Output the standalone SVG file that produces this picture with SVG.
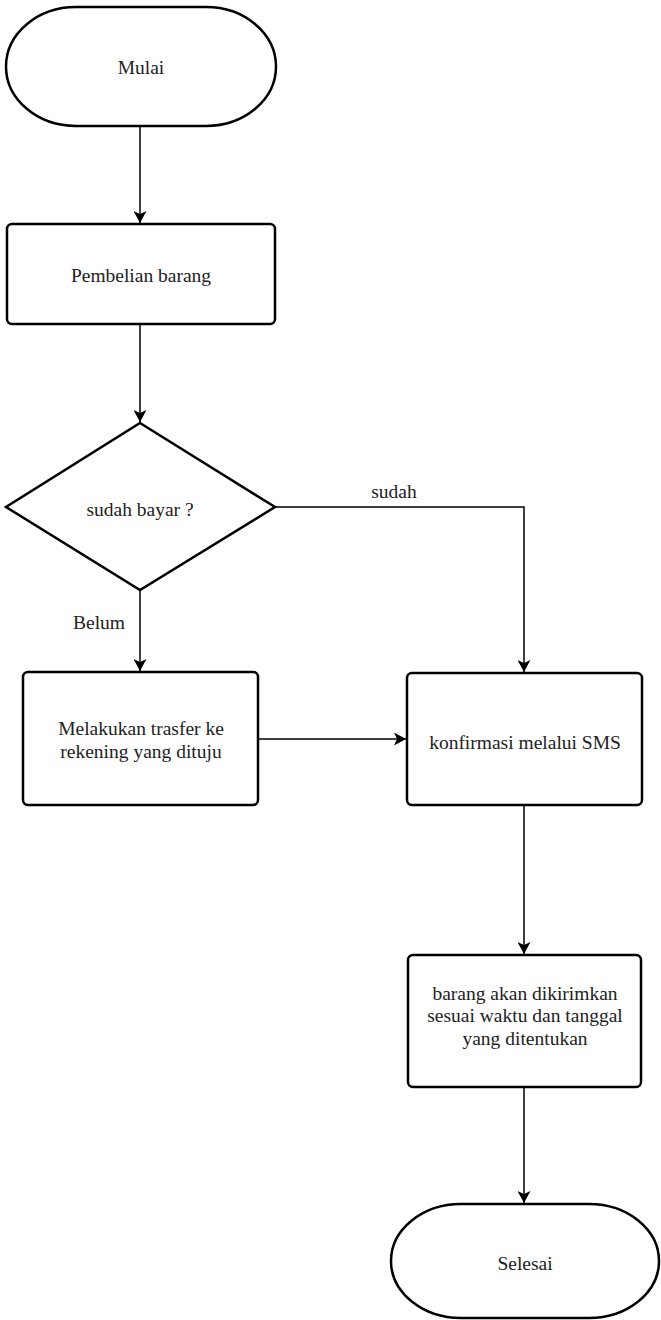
<svg xmlns="http://www.w3.org/2000/svg" width="661" height="1320" viewBox="0 0 661 1320">
<style>
.shape{fill:#ffffff;stroke:#000000;stroke-width:2.5}
.conn{fill:none;stroke:#000000;stroke-width:1.5}
.t{font-family:'Liberation Serif','Times New Roman','DejaVu Serif',serif;font-size:19.5px;fill:#222222;text-anchor:middle;dominant-baseline:central}
</style>
<defs>
<marker id="arrow" markerUnits="userSpaceOnUse" markerWidth="12" markerHeight="13" viewBox="0 0 12 13" refX="12" refY="6.5" orient="auto">
<path d="M0,0 L12,6.5 L0,13 L3,6.5 Z" fill="#000000"/>
</marker>
</defs>
<rect width="661" height="1320" fill="#ffffff"/>
<g id="connectors">
<line class="conn" x1="140" y1="126" x2="140" y2="223" marker-end="url(#arrow)"/>
<line class="conn" x1="140" y1="324" x2="140" y2="422" marker-end="url(#arrow)"/>
<polyline class="conn" points="275,507 524,507 524,672" marker-end="url(#arrow)"/>
<line class="conn" x1="140" y1="590" x2="140" y2="671" marker-end="url(#arrow)"/>
<line class="conn" x1="258" y1="739" x2="406" y2="739" marker-end="url(#arrow)"/>
<line class="conn" x1="524" y1="805" x2="524" y2="954" marker-end="url(#arrow)"/>
<line class="conn" x1="524" y1="1087" x2="524" y2="1203" marker-end="url(#arrow)"/>
<text class="t" font-family="Liberation Serif, serif" x="394" y="491">sudah</text>
<text class="t" font-family="Liberation Serif, serif" x="99" y="622">Belum</text>
</g>
<g id="mulai">
<rect class="shape" x="6" y="7" width="270" height="119" rx="70" ry="59.5"/>
<text class="t" font-family="Liberation Serif, serif" x="141" y="67">Mulai</text>
</g>
<g id="pembelian">
<rect class="shape" x="7" y="224" width="268" height="100" rx="5" ry="5"/>
<text class="t" font-family="Liberation Serif, serif" x="141" y="275">Pembelian barang</text>
</g>
<g id="sudah-bayar">
<polygon class="shape" points="140,423 275,507 140,590 6,507"/>
<text class="t" font-family="Liberation Serif, serif" x="140" y="509">sudah bayar ?</text>
</g>
<g id="transfer">
<rect class="shape" x="23" y="672" width="235" height="133" rx="5" ry="5"/>
<text class="t" font-family="Liberation Serif, serif" x="141" y="728">Melakukan trasfer ke</text>
<text class="t" font-family="Liberation Serif, serif" x="141" y="751">rekening yang dituju</text>
</g>
<g id="konfirmasi">
<rect class="shape" x="407" y="673" width="235" height="132" rx="5" ry="5"/>
<text class="t" font-family="Liberation Serif, serif" x="525" y="742">konfirmasi melalui SMS</text>
</g>
<g id="pengiriman">
<rect class="shape" x="408" y="955" width="233" height="132" rx="5" ry="5"/>
<text class="t" font-family="Liberation Serif, serif" x="525" y="993">barang akan dikirimkan</text>
<text class="t" font-family="Liberation Serif, serif" x="525" y="1015">sesuai waktu dan tanggal</text>
<text class="t" font-family="Liberation Serif, serif" x="525" y="1038">yang ditentukan</text>
</g>
<g id="selesai">
<rect class="shape" x="391" y="1204" width="268" height="114" rx="70" ry="57"/>
<text class="t" font-family="Liberation Serif, serif" x="525" y="1263">Selesai</text>
</g>
</svg>
